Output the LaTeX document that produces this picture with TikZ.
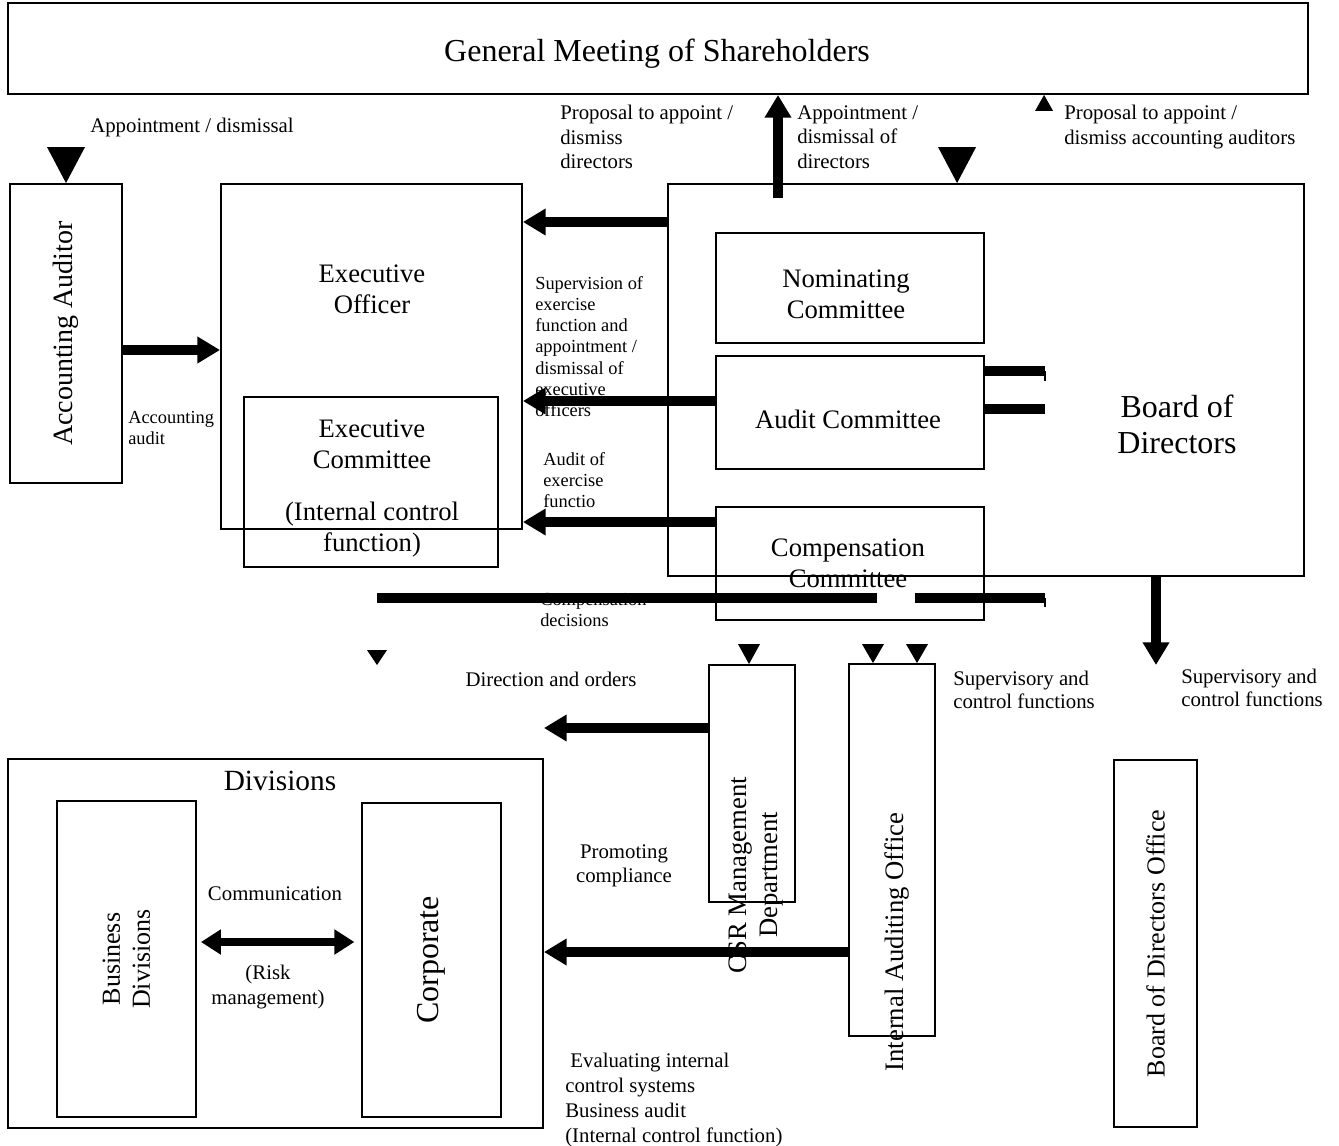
\documentclass[tikz,border=0pt]{standalone}
\usepackage{fontspec}
\setmainfont{Liberation Serif}
\usetikzlibrary{arrows.meta,calc}
\newcommand\tridn[3]{\fill ($#1+(-#2,-#3)$) -- #1 -- ($#1+(#2,-#3)$) -- cycle;}
\newcommand\triup[3]{\fill ($#1+(-#2,#3)$) -- #1 -- ($#1+(#2,#3)$) -- cycle;}
\begin{document}
\begin{tikzpicture}[x=0.75pt,y=-0.75pt,
  box/.style={draw, line width=1.4pt, inner sep=0pt},
  wh/.style 2 args={minimum width=#1*0.75pt, minimum height=#2*0.75pt},
  fG/.style={font=\fontsize{24pt}{27pt}\selectfont},
  fM/.style={font=\fontsize{20pt}{23.25pt}\selectfont},
  fL/.style={font=\fontsize{15.6pt}{18.4pt}\selectfont},
  fS/.style={font=\fontsize{13.8pt}{15.9pt}\selectfont},
  txt/.style={inner sep=0pt, align=left, anchor=north west},
  ctxt/.style={inner sep=0pt, align=center},
  rot/.style={rotate=90, inner sep=0pt, align=center},
  fat/.style={line width=7.5pt, -{Triangle[length=17pt,width=19pt]}},
  stub/.style={line width=7.5pt},
  tick/.style={line width=1pt}
]
\useasboundingbox (0,0) rectangle (1339,1146);

% boxes
\node[box, wh={1300}{91}] (gms) at (658,48.5) {};
\node[box, wh={112}{299}] (aa) at (66,333.5) {};
\node[box, wh={301}{345}] (eo) at (371.5,356.5) {};
\node[box, wh={254}{170}] (ec) at (371,482) {};
\node[box, wh={636}{392}] (board) at (986,380) {};
\node[box, wh={268}{110}] (nom) at (850,288) {};
\node[box, wh={268}{113}] (aud) at (850,412.5) {};
\node[box, wh={268}{113}] (comp) at (850,563.5) {};
\node[box, wh={86}{237}] (csr) at (752,783.5) {};
\node[box, wh={86}{372}] (iao) at (892,850) {};
\node[box, wh={83}{367}] (bdo) at (1155.5,943.5) {};
\node[box, wh={535}{369}] (div) at (275.5,943.5) {};
\node[box, wh={139}{316}] (bus) at (126.5,959) {};
\node[box, wh={139}{314}] (corp) at (431.5,960) {};

% box texts
\node[ctxt, fG] (gmst) at (657,54) {General Meeting of Shareholders};
\node[rot, font=\fontsize{21pt}{24pt}\selectfont] (aat) at (aa) {Accounting Auditor};
\node[ctxt, fM] (eot) at (372,289) {Executive\\Officer};
\node[ctxt, fM] (ect) at (372,444) {Executive\\Committee};
\node[ctxt, fM] (ect2) at (372,530) {(Internal control\\function)};
\node[ctxt, fM] (nomt) at (846,294) {Nominating\\Committee};
\node[ctxt, fM] (audt) at (848,419) {Audit Committee};
\node[ctxt, fM] (compt) at (848,563) {Compensation\\Committee};
\node[ctxt, font=\fontsize{24pt}{27pt}\selectfont] (boardt) at (1177,424) {Board of\\Directors};
\node[ctxt, font=\fontsize{22pt}{26pt}\selectfont] (divt) at (280,781) {Divisions};
\node[rot, fM] (csrt) at (756,875) {CSR Management\\Department};
\node[rot, fM] (iaot) at (897,942) {Internal Auditing Office};
\node[rot, font=\fontsize{19.5pt}{23pt}\selectfont] (bdot) at (bdo) {Board of Directors Office};
\node[rot, font=\fontsize{19.5pt}{22.5pt}\selectfont] (bust) at (bus) {Business\\Divisions};
\node[rot, font=\fontsize{24pt}{27pt}\selectfont] (corpt) at (corp) {Corporate};

% connector labels
\node[ctxt, fL] (l1) at (192,127) {Appointment / dismissal};
\node[txt, fL] (l2) at (560,105) {Proposal to appoint /\\dismiss\\directors};
\node[txt, fL] (l3) at (797,105) {Appointment /\\dismissal of\\directors};
\node[txt, fL] (l4) at (1064,105) {Proposal to appoint /\\dismiss accounting auditors};
\node[txt, fS] (l5) at (535,276) {Supervision of\\exercise\\function and\\appointment /\\dismissal of\\executive\\officers};
\node[txt, fS] (l6) at (128,411) {Accounting\\audit};
\node[txt, fS] (l7) at (543,452) {Audit of\\exercise\\functio};
\node[txt, fS] (l8) at (540,593) {Compensation\\decisions};
\node[ctxt, fL] (l9) at (551,679) {Direction and orders};
\node[txt, font=\fontsize{15.6pt}{17.3pt}\selectfont] (l10) at (953,671) {Supervisory and\\control functions};
\node[txt, font=\fontsize{15.6pt}{17.3pt}\selectfont] (l11) at (1181,669) {Supervisory and\\control functions};
\node[ctxt, fL] (l12) at (624,866) {Promoting\\compliance};
\node[ctxt, fL] (l13) at (275,894) {Communication};
\node[ctxt, fL] (l14) at (268,987) {(Risk\\management)};
\node[txt, font=\fontsize{15.6pt}{18.75pt}\selectfont] (l15) at (565,1053) {\ Evaluating internal\\control systems\\Business audit\\(Internal control function)};

% arrows
\draw[fat] (aa.east |- 0,350) -- (eo.west |- 0,350);
\draw[fat] (board.west |- 0,222) -- (eo.east |- 0,222);
\draw[fat] (aud.west |- 0,401) -- (eo.east |- 0,401);
\draw[fat] (comp.west |- 0,522) -- (eo.east |- 0,522);
\coordinate (upS) at (778,198);
\draw[fat] (upS) -- (gms.south -| upS);
\coordinate (dnE) at (1156,665);
\draw[fat] (board.south -| dnE) -- (dnE);
\draw[fat] (csr.west |- 0,728) -- (div.east |- 0,728);
\draw[fat] (iao.west |- 0,952) -- (div.east |- 0,952);
\draw[line width=6.5pt, {Triangle[length=15pt,width=18pt]}-{Triangle[length=15pt,width=18pt]}, shorten <=3pt, shorten >=5pt] (bus.east |- 0,942) -- (corp.west |- 0,942);

% stubs
\coordinate (s1) at (1045,371);
\draw[stub] (aud.east |- s1) -- (s1);
\draw[tick] (s1) -- ++(0,10);
\coordinate (s2) at (1045,409);
\draw[stub] (aud.east |- s2) -- (s2);
\coordinate (s3a) at (377,598);
\coordinate (s3b) at (877,598);
\draw[stub] (s3a) -- (s3b);
\coordinate (s4a) at (915,598);
\coordinate (s4b) at (1045,598);
\draw[stub] (s4a) -- (s4b);
\draw[tick] (s4b) -- ++(0,9);

% free triangles
\coordinate (t1) at (aa.north);
\coordinate (t2) at ($(board.north west)+(290,0)$);
\coordinate (t3) at ($(gms.south west)+(1037,0)$);
\coordinate (t4) at (377,665);
\coordinate (t5) at ($(csr.north)+(-3,0)$);
\coordinate (t6) at ($(iao.north)+(-19,0)$);
\coordinate (t7) at ($(iao.north)+(25,0)$);
\tridn{(t1)}{19}{36}
\tridn{(t2)}{19}{36}
\triup{(t3)}{9}{16}
\tridn{(t4)}{10}{15}
\tridn{(t5)}{11}{20}
\tridn{(t6)}{11}{19}
\tridn{(t7)}{11}{19}
\end{tikzpicture}
\end{document}
